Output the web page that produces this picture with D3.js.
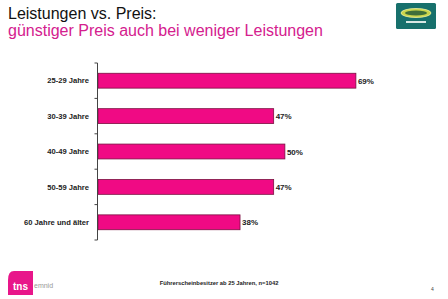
<!DOCTYPE html>
<html><head><meta charset="utf-8">
<script src="https://cdn.jsdelivr.net/npm/d3@7"></script>
<style>body{margin:0;background:#fff}svg{display:block}</style>
</head><body>
<script>
const categories = ["25-29 Jahre","30-39 Jahre","40-49 Jahre","50-59 Jahre","60 Jahre und älter"];
const values = [69,47,50,47,38];
const valueLabels = ["69%","47%","50%","47%","38%"];
const title1 = "Leistungen vs. Preis:";
const title2 = "günstiger Preis auch bei weniger Leistungen";
const footnote = "Führerscheinbesitzer ab 25 Jahren, n=1042";

const W=448,H=299;
const svg=d3.select("body").append("svg").attr("width",W).attr("height",H);
const font="Liberation Sans, Arial, sans-serif";

svg.append("text").attr("x",8).attr("y",19).attr("font-family",font).attr("font-size",16).attr("fill","#111").text(title1);
svg.append("text").attr("x",8).attr("y",36).attr("font-family",font).attr("font-size",16).attr("fill","#d4208e").text(title2);

// top-right logo
const lg=svg.append("g");
lg.append("rect").attr("x",396).attr("y",3).attr("width",40).attr("height",26).attr("rx",1.5).attr("fill","#17706c");
lg.append("ellipse").attr("cx",416).attr("cy",13).attr("rx",15).attr("ry",4.5).attr("fill","#c9d44a").attr("stroke","#eef0a0").attr("stroke-width",0.8);
lg.append("ellipse").attr("cx",416).attr("cy",13).attr("rx",11).attr("ry",2.5).attr("fill","#3f6e3a");
lg.append("rect").attr("x",406).attr("y",21).attr("width",20).attr("height",2).attr("fill","#d8e8e4");

const x=d3.scaleLinear().domain([0,80]).range([98,397]);
const y=d3.scaleBand().domain(categories).range([63,240]).paddingInner(0.58).paddingOuter(0.29);

const g=svg.append("g");
g.selectAll("rect.bar").data(values).join("rect").attr("class","bar")
 .attr("x",x(0)).attr("y",(d,i)=>y(categories[i])).attr("width",d=>x(d)-x(0)).attr("height",y.bandwidth())
 .attr("fill","#f00a84").attr("stroke","#7a1040").attr("stroke-width",0.8);

g.selectAll("text.val").data(values).join("text").attr("class","val")
 .attr("x",d=>x(d)+2).attr("y",(d,i)=>y(categories[i])+y.bandwidth()/2+3)
 .attr("font-family",font).attr("font-size",8).attr("font-weight","bold").attr("fill","#222")
 .text((d,i)=>valueLabels[i]);

g.selectAll("text.cat").data(categories).join("text").attr("class","cat")
 .attr("x",89).attr("y",d=>y(d)+y.bandwidth()/2+2.7).attr("text-anchor","end")
 .attr("font-family",font).attr("font-size",7.6).attr("font-weight","bold").attr("fill","#222")
 .text(d=>d);

// axis line with ticks between categories
const step=y.step();
const tickYs=[63].concat(categories.map(c=>y(c)-(step-y.bandwidth())/2).slice(1)).concat([240]);
g.append("line").attr("x1",x(0)-0.5).attr("x2",x(0)-0.5).attr("y1",63).attr("y2",240).attr("stroke","#444").attr("stroke-width",1);
g.selectAll("line.tk").data(tickYs).join("line").attr("class","tk")
 .attr("x1",x(0)-3.5).attr("x2",x(0)-0.5).attr("y1",d=>d).attr("y2",d=>d).attr("stroke","#444").attr("stroke-width",1);

// footer
svg.append("text").attr("x",219).attr("y",285).attr("text-anchor","middle").attr("font-family",font).attr("font-size",5.8).attr("font-weight","bold").attr("fill","#222").text(footnote);
svg.append("text").attr("x",431).attr("y",291).attr("font-family",font).attr("font-size",5).attr("fill","#444").text("4");

// tns emnid logo
const tl=svg.append("g");
tl.append("path").attr("d","M14,271 L33,271 L33,295 L8,295 L8,280 Q8,271 14,271 Z").attr("fill","#e8168a");
tl.append("text").attr("x",13).attr("y",290).attr("font-family",font).attr("font-size",10).attr("font-weight","bold").attr("fill","#fff").text("tns");
tl.append("text").attr("x",34).attr("y",288).attr("font-family",font).attr("font-size",7).attr("fill","#999").text("emnid");
</script>
</body></html>
